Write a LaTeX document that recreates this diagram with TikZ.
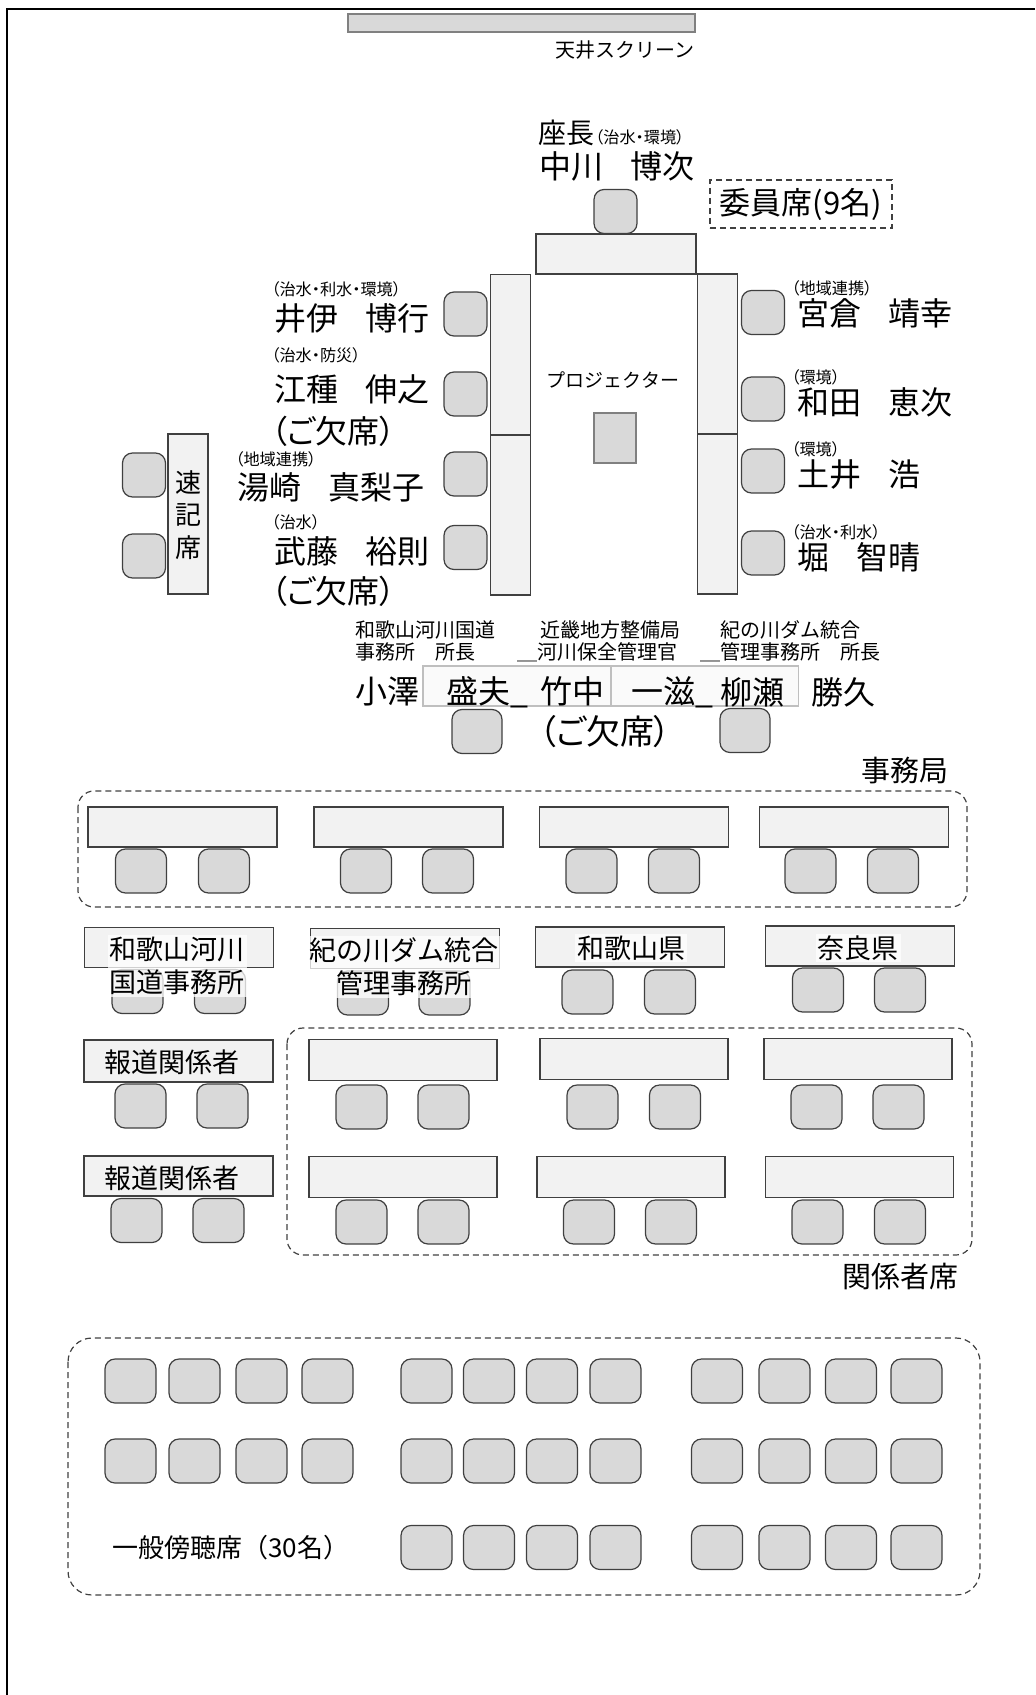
\documentclass[tikz,border=0pt]{standalone}
\usepackage{fontspec}
\setmainfont{Noto Sans CJK JP}
\newfontfamily\pfont{Noto Sans CJK JP}[RawFeature=+palt]
\definecolor{seatgray}{HTML}{D9D9D9}
\definecolor{deskgray}{HTML}{F2F2F2}
\definecolor{edgegray}{HTML}{404040}
\newcommand{\szname}{\fontsize{16pt}{18.5pt}\selectfont}
\newcommand{\sznote}{\fontsize{8.1pt}{9.5pt}\selectfont\pfont}
\newcommand{\szlbl}{\fontsize{10pt}{12pt}\selectfont}
\newcommand{\szhead}{\fontsize{14.5pt}{17pt}\selectfont}
\newcommand{\szdesk}{\fontsize{13.5pt}{16.5pt}\selectfont}
\newcommand{\nmgap}{\hspace{0.85em}}

\begin{document}
\begin{tikzpicture}[x=0.5pt,y=-0.5pt,
    seat/.style={draw=edgegray,fill=seatgray,line width=0.6pt,rounded corners=5pt,minimum width=25.5pt,minimum height=22pt,inner sep=0pt},
    desk/.style 2 args={draw=edgegray,fill=deskgray,line width=0.6pt,minimum width=#1*0.5pt,minimum height=#2*0.5pt,inner sep=0pt},
    grpbox/.style={draw=edgegray,line width=0.6pt,dash pattern=on 3pt off 2pt,rounded corners=8pt},
    txt/.style={inner sep=0pt,anchor=west}]
  \useasboundingbox (0,0) rectangle (1035,1695);
  \draw[line width=1pt] (1035,9) -- (7,9) -- (7,1695);

  % front of the room
  \node[desk={347}{18},fill=seatgray,draw=gray] (screen) at (521.5,23) {};
  \node[txt,anchor=east,font=\szlbl] (screenlbl) at (695,50) {天井スクリーン};

  \node[txt,font=\fontsize{14pt}{16pt}\selectfont] (chairlbl) at (538,133) {座長};
  \node[inner sep=0pt,anchor=base west,font=\sznote] (chairfld) at (chairlbl.base east) {（治水・環境）};
  \node[txt,font=\szname] (chairnm) at (539,166) {中川\nmgap 博次};
  \node[grpbox,rounded corners=0pt,minimum width=91pt,minimum height=24pt,inner sep=0pt,font=\fontsize{15.5pt}{18pt}\selectfont] (cmtbox) at (801,204) {委員席(9名)};

  % committee tables
  \begin{scope}[every node/.style={desk={40}{160}}]
    \node[desk={160}{40}] (headdesk) at (616,254) {};
    \node (ldesk1) at (510.5,354.5) {};
    \node (ldesk2) at (510.5,515) {};
    \node (rdesk1) at (717.5,354) {};
    \node (rdesk2) at (717.5,514) {};
    \node (sdesk) at (188,514) {};
  \end{scope}
  \node[desk={42}{50},fill=seatgray,draw=gray] (projbox) at (615,438) {};
  \node[font=\fontsize{9.5pt}{11pt}\selectfont,inner sep=0pt] (projlbl) at (613,380) {プロジェクター};
  \node[align=center,inner sep=0pt,font=\fontsize{13pt}{16.25pt}\selectfont] (sdesklbl) at (188,515) {速\\記\\席};

  % committee seats
  \begin{scope}[every node/.style={seat,minimum width=21.5pt}]
    \node (chairseat) at (615.5,211.5) {};
    \node (l1) at (465.5,314) {};
    \node (l2) at (465.5,394) {};
    \node (l3) at (465.5,474) {};
    \node (l4) at (465.5,547.5) {};
    \node (r1) at (763,312.5) {};
    \node (r2) at (763,399) {};
    \node (r3) at (763,471) {};
    \node (r4) at (763,553) {};
    \node (st1) at (144,475) {};
    \node (st2) at (144,556) {};
  \end{scope}

  % committee names
  \begin{scope}[every node/.style={txt}]
    \node[font=\sznote] (f1) at (271,289) {（治水・利水・環境）};
    \node[font=\szname] (m1) at (274,318) {井伊\nmgap 博行};
    \node[font=\sznote] (f2) at (271,355) {（治水・防災）};
    \node[font=\szname] (m2) at (274,389) {江種\nmgap 伸之};
    \node[font=\szname\pfont] (a2) at (271,431) {（ご欠席）};
    \node[font=\sznote] (f3) at (235,459) {（地域連携）};
    \node[font=\szname] (m3) at (237,487) {湯崎\nmgap 真梨子};
    \node[font=\sznote] (f4) at (271,522) {（治水）};
    \node[font=\szname] (m4) at (274,551) {武藤\nmgap 裕則};
    \node[font=\szname\pfont] (a4) at (271,591) {（ご欠席）};
    \node[font=\sznote] (f5) at (791,288) {（地域連携）};
    \node[font=\szname] (m5) at (797,313) {宮倉\nmgap 靖幸};
    \node[font=\sznote] (f6) at (791,377) {（環境）};
    \node[font=\szname] (m6) at (797,402) {和田\nmgap 恵次};
    \node[font=\sznote] (f7) at (791,449) {（環境）};
    \node[font=\szname] (m7) at (797,475) {土井\nmgap 浩};
    \node[font=\sznote] (f8) at (791,532) {（治水・利水）};
    \node[font=\szname] (m8) at (797,557) {堀\nmgap 智晴};
  \end{scope}

  % officials facing the committee
  \node[desk={188}{40},fill=white!60!deskgray,draw=lightgray] (fdesk1) at (517,686) {};
  \node[desk={187}{40},fill=white!60!deskgray,draw=lightgray] (fdesk2) at (705,686) {};
  \begin{scope}[every node/.style={txt}]
    \node[font=\szlbl] (o1a) at (355,630) {和歌山河川国道};
    \node[font=\szlbl] (o1b) at (355,652) {事務所　所長};
    \node[font=\szlbl] (o2a) at (540,630) {近畿地方整備局};
    \node[font=\szlbl] (o2b) at (517,652) {＿河川保全管理官};
    \node[font=\szlbl] (o3a) at (720,630) {紀の川ダム統合};
    \node[font=\szlbl] (o3b) at (700,652) {＿管理事務所　所長};
    \node[font=\szname] (n1) at (355,692) {小澤\nmgap 盛夫\_};
    \node[font=\szname] (n2) at (540,692) {竹中\nmgap 一滋\_};
    \node[font=\szname] (n3) at (720,692) {柳瀬\nmgap 勝久};
  \end{scope}
  \node[seat,minimum width=25pt] (fseat1) at (477,731.5) {};
  \node[seat,minimum width=25pt] (fseat2) at (745,730.5) {};
  \node[inner sep=0pt,font=\fontsize{17pt}{20pt}\selectfont\pfont] (absent) at (605,732) {（ご欠席）};

  % secretariat
  \node[txt,font=\szhead] (secrlbl) at (861,771) {事務局};
  \draw[grpbox] (78,791) rectangle (967,907);
  \foreach \x [count=\i] in {182.5,408.5,634,854}
    \node[desk={189}{40}] (sd\i) at (\x,827) {};
  \foreach \x [count=\i] in {141,224,366,448,591.5,674,810.5,893}
    \node[seat] (ss\i) at (\x,871) {};

  % related offices
  \node[desk={189}{40}] (od1) at (179,947.5) {};
  \node[desk={189}{40}] (od2) at (405,948.5) {};
  \node[desk={189}{40}] (od3) at (630,947) {};
  \node[desk={189}{40}] (od4) at (860,946) {};
  \foreach \x/\y [count=\i] in {137.5/991.5,220/991.5,363/993,444.5/993,587.5/992,670/992,818/990,900/990}
    \node[seat] (os\i) at (\x,\y) {};
  \begin{scope}[every node/.style={fill=white,fill opacity=0.75,text opacity=1,inner sep=1pt,align=center,font=\szdesk}]
    \node (od1lbl) at (177,966) {和歌山河川\\国道事務所};
    \node (od2lbl) at (404,967) {紀の川ダム統合\\管理事務所};
    \node (od3lbl) at (631,948) {和歌山県};
    \node (od4lbl) at (858,948) {奈良県};
  \end{scope}

  % press
  \node[desk={189}{42}] (press1) at (178.5,1061) {};
  \node[desk={189}{40}] (press2) at (178.5,1176) {};
  \node[font=\szdesk,inner sep=0pt] (press1lbl) at (172,1062) {報道関係者};
  \node[font=\szdesk,inner sep=0pt] (press2lbl) at (172,1178) {報道関係者};
  \node[seat] (ps1) at (140.5,1106) {};
  \node[seat] (ps2) at (222.5,1106) {};
  \node[seat] (ps3) at (136.5,1220.5) {};
  \node[seat] (ps4) at (218.5,1220.5) {};

  % related persons
  \draw[grpbox] (287,1028) rectangle (972,1255);
  \node[txt,font=\szhead] (rellbl) at (842,1277) {関係者席};
  \foreach \x/\y [count=\i] in {403/1060,634/1059,858/1059,403/1177,631/1177,859.5/1177}
    \node[desk={188}{41}] (rd\i) at (\x,\y) {};
  \foreach \x [count=\i] in {361.5,443.5,592.5,675,816.5,898.5}
    \node[seat] (rs\i) at (\x,1107) {};
  \foreach \x [count=\i from 7] in {361.5,443.5,589,671,817.5,900}
    \node[seat] (rs\i) at (\x,1222) {};

  % public gallery
  \draw[grpbox,rounded corners=12pt] (68,1338) rectangle (980,1595);
  \foreach \y [count=\r] in {1381,1461}
    \foreach \x [count=\c] in {130.5,194.5,261.5,327.5,426.5,489,552,615.5,717,784.5,851,916.5}
      \node[seat] (g\r-\c) at (\x,\y) {};
  \foreach \x [count=\c from 5] in {426.5,489,552,615.5,717,784.5,851,916.5}
    \node[seat] (g3-\c) at (\x,1547.5) {};
  \node[txt,font=\fontsize{13pt}{15pt}\selectfont] (publbl) at (112,1548) {一般傍聴席（30名）};
\end{tikzpicture}
\end{document}
